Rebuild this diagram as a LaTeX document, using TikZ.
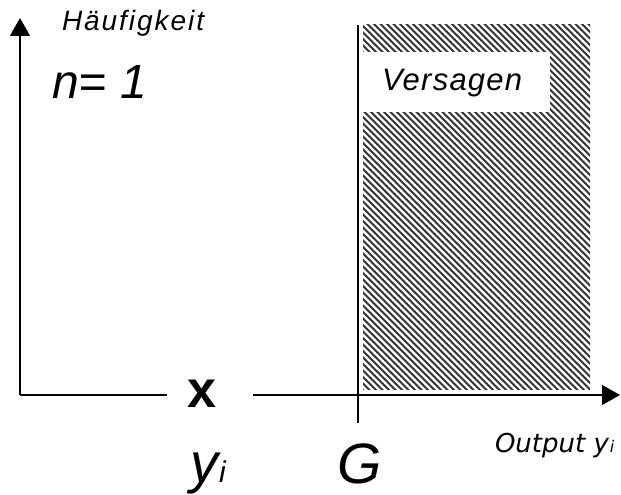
\documentclass[tikz,border=0pt]{standalone}
\usepackage{fontspec}
\setmainfont{Liberation Sans}
\newfontfamily\dvs{DejaVu Sans}
\usetikzlibrary{arrows.meta}
\tikzset{
  axis/.style={line width=1.3pt,-{Triangle[length=18pt,width=20pt]}},
  plain/.style={line width=1.3pt},
  lbl/.style={inner sep=0pt,outer sep=0pt,text=black},
  hatchline/.style={line width=2pt,black!80}
}
\begin{document}
\begin{tikzpicture}[x=1pt,y=-1pt]
\useasboundingbox (0,0) rectangle (621,495);
% hatched region
\begin{scope}
  \clip (363,25) rectangle (590,389);
  \foreach \c in {-40,-33.5,...,580} {
    \draw[hatchline] (\c,0) -- (\c+420,420);
  }
\end{scope}
\fill[white] (363,52) rectangle (550,112);
\node[lbl,anchor=base west] (vers) at (382,90)
  {\addfontfeatures{LetterSpace=4}\fontsize{31}{31}\selectfont\itshape Versagen};
% coordinates
\coordinate (o) at (20,395);
\coordinate (ytip) at (20,18);
\coordinate (gapL) at (167,395);
\coordinate (gapR) at (253,395);
\coordinate (xtip) at (620,395);
\coordinate (gtop) at (358,25);
\coordinate (gbot) at (358,423);
% axes
\draw[axis] (o) -- (ytip);
\draw[plain] (o) -- (gapL);
\draw[axis] (gapR) -- (xtip);
\draw[plain] (gtop) -- (gbot);
% labels
\node[lbl,anchor=base west] (hf) at (62,31)
  {\addfontfeatures{LetterSpace=7}\fontsize{28}{28}\selectfont\itshape Häufigkeit};
\node[lbl,anchor=base west] (n1) at (52,98)
  {\fontsize{48}{48}\selectfont\itshape n= 1};
\node[lbl,anchor=base] (xl) at (202,407)
  {\fontsize{52}{52}\selectfont\bfseries x};
\node[lbl,anchor=base west] (yi) at (190,482)
  {\fontsize{56}{56}\selectfont\itshape y\kern1pt{\fontsize{30}{30}\selectfont i}};
\node[lbl,anchor=base] (G) at (360,483)
  {\fontsize{57}{57}\selectfont\itshape G};
\node[lbl,anchor=base west] (out) at (495,452)
  {\dvs\fontsize{26}{26}\selectfont\itshape Output y\kern1pt{\fontsize{16}{16}\selectfont i}};
\end{tikzpicture}
\end{document}
